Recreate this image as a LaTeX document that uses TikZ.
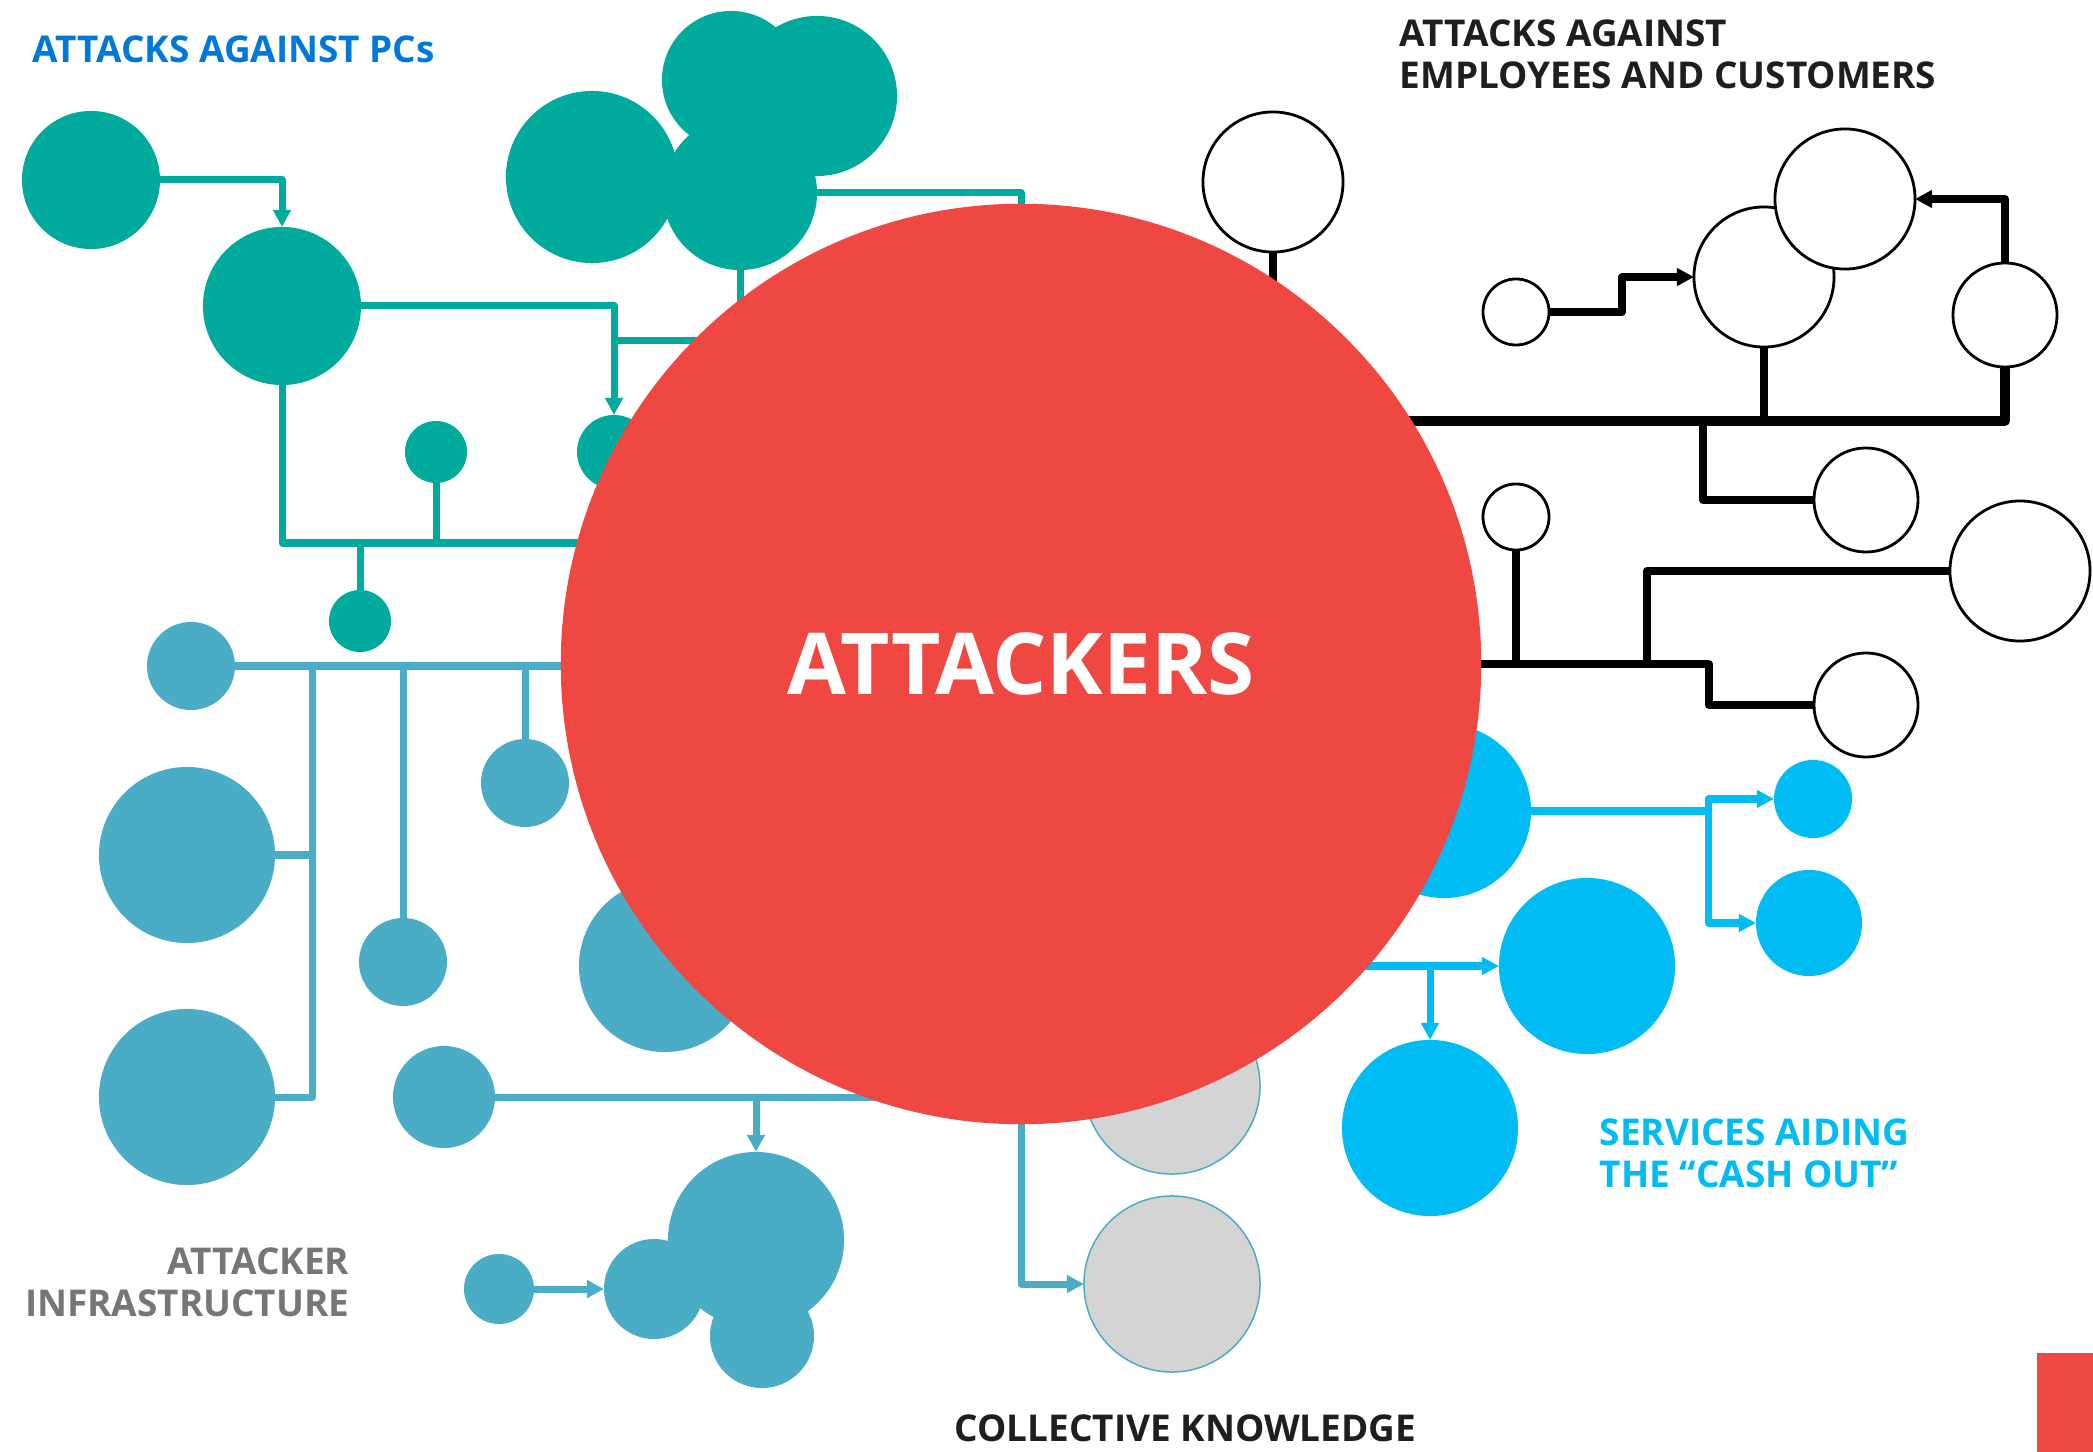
\documentclass[tikz,border=0pt]{standalone}
\usepackage{fontspec}
\setmainfont{Open Sans}
\usepackage{tikz}
\usetikzlibrary{arrows.meta}
\definecolor{pcteal}{RGB}{0,171,158}
\definecolor{infblue}{RGB}{75,172,198}
\definecolor{cashblue}{RGB}{0,188,242}
\definecolor{hubred}{RGB}{239,72,66}
\definecolor{knowgray}{RGB}{212,212,212}
\definecolor{headblue}{RGB}{0,120,215}
\definecolor{headgray}{RGB}{118,118,118}
\definecolor{headblack}{RGB}{30,30,30}
\tikzstyle{dot}=[circle, inner sep=0, outer sep=0]
\tikzstyle{pc}=[dot, fill=pcteal]
\tikzstyle{infra}=[dot, fill=infblue]
\tikzstyle{cash}=[dot, fill=cashblue]
\tikzstyle{know}=[dot, fill=knowgray, draw=infblue, line width=0.015cm]
\tikzstyle{emp}=[dot, fill=white, draw=black, line width=0.028cm]
\tikzstyle{wire}=[line width=0.07cm, line join=round, >={Triangle[length=0.17cm,width=0.17cm]}]
\tikzstyle{heading}=[inner sep=0, font=\bfseries\fontsize{10.5}{11.9}\selectfont]

\begin{document}
\begin{tikzpicture}[x=0.01cm, y=-0.01cm]
\useasboundingbox (0,0) rectangle (2093,1452);
\coordinate (hub) at (1021,664);

% attacks against PCs
\node[pc, minimum size=1.38cm] (pcF) at (731,80) {};
\node[pc, minimum size=1.60cm] (pcE) at (817,96) {};
\node[pc, minimum size=1.72cm] (pcC) at (592,177) {};
\node[pc, minimum size=1.54cm] (pcD) at (740,193) {};
\node[pc, minimum size=1.38cm] (pcA) at (91,180) {};
\node[pc, minimum size=1.58cm] (pcB) at (282,306) {};
\node[pc, minimum size=0.74cm] (pcG) at (614,452) {};
\node[pc, minimum size=0.62cm] (pcH) at (436,452) {};
\node[pc, minimum size=0.62cm] (pcI) at (360,621) {};
\coordinate (pcjoint) at (616,341);
\coordinate (pcbus) at (282,543);
\begin{scope}[wire, draw=pcteal]
  \draw[->] (pcA.east) -| (pcB.north);
  \draw[->] (pcB.east) -| (pcG.north);
  \draw (pcjoint) -- (pcjoint -| hub);
  \draw (pcD.east) -| (hub);
  \draw (pcD.south) -- (pcD.south |- hub);
  \draw (pcB.south) -- (pcbus) -- (pcbus -| hub);
  \draw (pcH.south) -- (pcH.south |- pcbus);
  \draw (pcI.north) -- (pcI.north |- pcbus);
\end{scope}

% attacker infrastructure
\node[infra, minimum size=0.88cm] (infA) at (191,666) {};
\node[infra, minimum size=1.76cm] (infB) at (187,855) {};
\node[infra, minimum size=1.76cm] (infC) at (187,1097) {};
\node[infra, minimum size=0.88cm] (infD) at (403,962) {};
\node[infra, minimum size=0.88cm] (infE) at (525,783) {};
\node[infra, minimum size=1.72cm] (infF) at (665,966) {};
\node[infra, minimum size=1.02cm] (infG) at (444,1097) {};
\node[infra, minimum size=1.76cm] (infH) at (756,1240) {};
\node[infra, minimum size=1.00cm] (infI) at (654,1289) {};
\node[infra, minimum size=1.04cm] (infJ) at (762,1336) {};
\node[infra, minimum size=0.70cm] (infK) at (499,1289) {};
\coordinate (infbus) at (312,666);
\begin{scope}[wire, draw=infblue]
  \draw (infA.east) -- (infA.east -| hub);
  \draw (infbus) |- (infC.east);
  \draw (infB.east) -- (infB.east -| infbus);
  \draw (infD.north) -- (infD.north |- infbus);
  \draw (infE.north) -- (infE.north |- infbus);
  \draw (infG.east) -- (infG.east -| hub);
  \draw[->] (infG.east -| infH.north) -- (infH.north);
  \draw[->] (infK.east) -- (infI.west);
\end{scope}

% collective knowledge
\node[know, minimum size=1.76cm] (knowA) at (1172,1086) {};
\node[know, minimum size=1.76cm] (knowB) at (1172,1284) {};
\draw[wire, draw=infblue, ->] (hub) |- (knowB.west);

% cash out
\node[cash, minimum size=1.74cm] (cashA) at (1444,811) {};
\node[cash, minimum size=0.78cm] (cashB) at (1813,799) {};
\node[cash, minimum size=1.06cm] (cashC) at (1809,923) {};
\node[cash, minimum size=1.76cm] (cashD) at (1587,966) {};
\node[cash, minimum size=1.76cm] (cashE) at (1430,1128) {};
\coordinate (cashsplit) at (1708,811);
\begin{scope}[wire, draw=cashblue]
  \draw (cashA.east) -- (cashsplit);
  \draw[->] (cashsplit) |- (cashB.west);
  \draw[->] (cashsplit) |- (cashC.west);
  \draw[->] (hub |- cashD.west) -- (cashD.west);
  \draw[->] (cashD.west -| cashE.north) -- (cashE.north);
\end{scope}

% employees and customers
\node[emp, minimum size=1.40cm] (empA) at (1273,182) {};
\node[emp, minimum size=0.66cm] (empB) at (1516,312) {};
\node[emp, minimum size=1.40cm] (empC) at (1764,277) {};
\node[emp, minimum size=1.40cm] (empD) at (1845,199) {};
\node[emp, minimum size=1.04cm] (empE) at (2005,315) {};
\node[emp, minimum size=1.04cm] (empF) at (1866,500) {};
\node[emp, minimum size=0.66cm] (empG) at (1516,517) {};
\node[emp, minimum size=1.40cm] (empH) at (2020,571) {};
\node[emp, minimum size=1.04cm] (empI) at (1866,705) {};
\coordinate (empbus) at (1703,421);
\coordinate (empbusB) at (1647,664);
\begin{scope}[wire, draw=black, line width=0.08cm]
  \draw (empA.south) -- (empA.south |- hub);
  \draw[->] (empB.east) -- ++(73,0) |- (empC.west);
  \draw[->] (empE.north) |- (empD.east);
  \draw[line width=0.095cm] (empE.south) |- (empbus -| hub);
  \draw (empC.south) -- (empC.south |- empbus);
  \draw (empbus) |- (empF.west);
  \draw (empG.south) -- (empG.south |- hub);
  \draw (hub) -- ++(688,0) |- (empI.west);
  \draw (empbusB) |- (empH.west);
\end{scope}

\node[dot, fill=hubred, minimum size=9.20cm, text=white,
      font=\bfseries\fontsize{24.3}{28}\selectfont] (attackers) at (hub) {ATTACKERS};
\fill[hubred] (2037,1353) rectangle (2093,1452);

\node[heading, text=headblue, anchor=north west] (pcname) at (32,35) {ATTACKS AGAINST PCs};
\node[heading, text=headblack, anchor=north west, align=left] (empname) at (1399,19)
  {ATTACKS AGAINST\\EMPLOYEES AND CUSTOMERS};
\node[heading, text=headgray, anchor=north east, align=right] (infname) at (350,1247)
  {ATTACKER\\INFRASTRUCTURE};
\node[heading, text=cashblue, anchor=north west, align=left] (cashname) at (1599,1118)
  {SERVICES AIDING\\THE “CASH OUT”};
\node[heading, text=headblack, anchor=north west] (knowname) at (954,1414) {COLLECTIVE KNOWLEDGE};
\end{tikzpicture}
\end{document}
